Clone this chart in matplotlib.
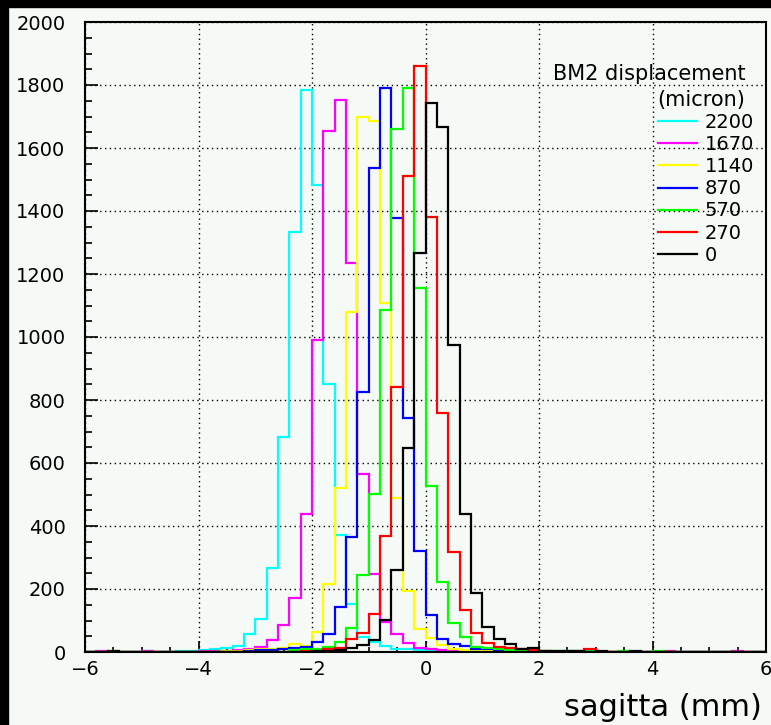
import numpy as np
import matplotlib
matplotlib.use("Agg")
import matplotlib.pyplot as plt
from matplotlib.patches import Rectangle

# bins: 60 bins of 0.2 mm from -6 to 6
edges = np.linspace(-6, 6, 61)

labels = ["2200", "1670", "1140", "870", "570", "270", "0"]
colors = ["#00ffff", "#ff00ff", "#ffff00", "#0000ff", "#00ff00", "#ff0000", "#000000"]

z10 = [0] * 10

c2200 = ([0, 0, 0, 0, 0, 2, 0, 0, 2, 3]
         + [5, 8, 12, 18, 57, 104, 267, 682, 1332, 1784]
         + [1483, 851, 372, 152, 47, 33, 19, 11, 8, 5]
         + [4, 3, 3, 2, 0, 0, 0, 0, 0, 0]
         + [0, 0, 3, 0, 0, 0, 0, 0, 0, 0]
         + z10)
c1670 = ([0, 3, 0, 0, 0, 2, 0, 0, 0, 0]
         + [2, 3, 4, 6, 10, 15, 38, 86, 170, 437]
         + [990, 1653, 1752, 1236, 565, 248, 96, 58, 30, 14]
         + [10, 6, 4, 3, 0, 0, 0, 0, 0, 0]
         + z10
         + [0, 3, 0, 0, 0, 0, 0, 3, 0, 0])
c1140 = ([0, 0, 2, 0, 0, 0, 0, 0, 0, 0]
         + [0, 0, 3, 4, 6, 8, 10, 12, 25, 20]
         + [62, 215, 522, 1078, 1700, 1687, 1108, 490, 194, 72]
         + [43, 22, 9, 5, 3, 2, 0, 0, 0, 0]
         + z10 + z10)
c870 = (z10
        + [0, 0, 0, 0, 4, 5, 7, 10, 12, 15]
        + [33, 57, 144, 364, 826, 1535, 1789, 1378, 742, 322]
        + [118, 40, 25, 18, 11, 8, 5, 3, 2, 0]
        + z10 + z10)
c570 = (z10
        + [0, 0, 0, 0, 0, 0, 0, 0, 5, 8]
        + [10, 15, 33, 75, 246, 502, 1086, 1660, 1790, 1157]
        + [528, 221, 92, 47, 15, 12, 8, 6, 5, 8]
        + [4, 2, 3, 0, 3, 0, 0, 3, 0, 0]
        + [3, 0, 0, 0, 0, 0, 0, 0, 0, 0])
c270 = (z10
        + [0, 0, 0, 0, 0, 0, 0, 0, 0, 3]
        + [4, 10, 13, 40, 61, 121, 369, 842, 1511, 1861]
        + [1380, 758, 316, 133, 60, 29, 15, 12, 8, 5]
        + [3, 0, 0, 3, 8, 0, 0, 0, 0, 0]
        + z10)
c0 = ([0, 0, 2, 0, 0, 0, 0, 0, 0, 0]
      + z10
      + [2, 3, 6, 12, 22, 38, 102, 259, 647, 1266]
      + [1742, 1668, 975, 437, 186, 80, 40, 25, 9, 14]
      + [4, 2, 4, 2, 0, 2, 0, 0, 3, 0]
      + z10)

series = [c2200, c1670, c1140, c870, c570, c270, c0]

W, H = 771, 725
bg = "#f6faf6"
plt.rcParams["font.family"] = "DejaVu Sans"

fig = plt.figure(figsize=(W / 100, H / 100), dpi=100, facecolor=bg)
ax = fig.add_axes([85 / W, 1 - 652 / H, 681 / W, 630 / H], facecolor=bg)

# black strips at top and left edge
fig.patches.append(Rectangle((0, 1 - 7 / H), 1, 7 / H, transform=fig.transFigure,
                             color="black", zorder=0))
fig.patches.append(Rectangle((0, 0), 8 / W, 1, transform=fig.transFigure,
                             color="black", zorder=0))

handles = []
for counts, col, lab in zip(series, colors, labels):
    ax.stairs(counts, edges, color=col, lw=1.6, label=lab)
    handles.append(plt.Line2D([], [], color=col, lw=1.6))

ax.set_xlim(-6, 6)
ax.set_ylim(0, 2000)
ax.set_xticks(np.arange(-6, 6.1, 2))
ax.set_xticks(np.arange(-6, 6.1, 0.5), minor=True)
ax.set_yticks(np.arange(0, 2001, 200))
ax.set_yticks(np.arange(0, 2001, 50), minor=True)

ax.grid(True, which="major", color="black", linestyle=(0, (1, 2.5)), lw=1)
ax.set_axisbelow(True)

ax.tick_params(axis="both", which="both", direction="in", width=1.2, colors="black")
ax.tick_params(axis="y", which="major", length=9, pad=14, labelsize=14)
ax.tick_params(axis="y", which="minor", length=5)
ax.tick_params(axis="x", which="major", length=8, pad=6, labelsize=14)
ax.tick_params(axis="x", which="minor", length=3.5)
for s in ax.spines.values():
    s.set_linewidth(1.5)

fig.text(762 / W, 1 - 707 / H, "sagitta (mm)", ha="right", va="center", fontsize=22)

fig.text(553 / W, 1 - 74 / H, "BM2 displacement", ha="left", va="center", fontsize=15)
fig.text(657 / W, 1 - 100 / H, "(micron)", ha="left", va="center", fontsize=15)
ax.legend(handles, labels, loc="upper left", bbox_to_anchor=(658 / W, 1 - 113 / H),
          bbox_transform=fig.transFigure, frameon=False, fontsize=14,
          borderpad=0, borderaxespad=0, handlelength=2.0, handletextpad=0.4,
          labelspacing=0.16)

fig.savefig("out.png", dpi=100, facecolor=bg)
